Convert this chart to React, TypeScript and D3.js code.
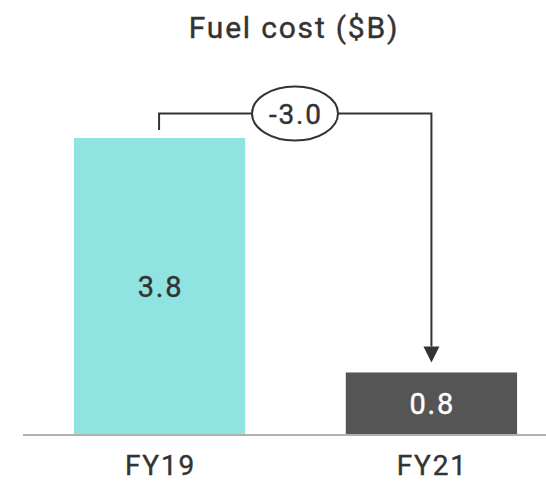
import React from "react";
import * as d3 from "d3";

const categories = ["FY19", "FY21"];
const values = [3.8, 0.8];
const valueLabels = ["3.8", "0.8"];
const changeLabel = "-3.0";
const title = "Fuel cost ($B)";

const W = 546;
const H = 481;
const baseY = 435;
const fillColors = ["#8fe3e0", "#555555"];
const labelColors = ["#333333", "#ffffff"];

export default function App() {
  const x = d3.scaleBand<string>().domain(categories).range([25, 566]).paddingInner(0.37).paddingOuter(0.18);
  const y = d3.scaleLinear().domain([0, 3.8]).range([baseY, 138]);
  const bw = x.bandwidth();
  const x0 = (x(categories[0]) ?? 0) + bw / 2 - 0.5;
  const x1 = (x(categories[1]) ?? 0) + bw / 2;
  const bracketY = 113.5;
  const ex = 295;
  const font = "Roboto, 'DejaVu Sans', sans-serif";
  const ls = 1.8;
  const fw = 400;
  return (
    <svg width={W} height={H} style={{ position: "absolute", left: 0, top: 0 }}>
      <text x={294} y={38} textAnchor="middle" fontFamily={font} fontWeight={fw} fontSize={30} letterSpacing={ls} fill="#333" stroke="#333" strokeWidth={0.4}>{title}</text>
      {categories.map((c, i) => (
        <g key={c}>
          <rect x={x(c)} y={y(values[i])} width={bw} height={baseY - 1 - y(values[i])} fill={fillColors[i]} />
          <text x={(x(c) ?? 0) + bw / 2 + ls / 2} y={(y(values[i]) + baseY) / 2 + 10} textAnchor="middle" fontFamily={font} fontWeight={fw} fontSize={29} letterSpacing={ls} fill={labelColors[i]} stroke={labelColors[i]} strokeWidth={0.4}>{valueLabels[i]}</text>
          <text x={(x(c) ?? 0) + bw / 2 + ls / 2} y={475} textAnchor="middle" fontFamily={font} fontWeight={fw} fontSize={28} letterSpacing={ls} fill="#333" stroke="#333" strokeWidth={0.4}>{c}</text>
        </g>
      ))}
      <line x1={23} x2={W} y1={baseY} y2={baseY} stroke="#b0b0b0" strokeWidth={2} />
      <path d={`M${x0},${y(values[0]) - 8} V${bracketY} H${x1} V${y(values[1]) - 26}`} fill="none" stroke="#333" strokeWidth={2} />
      <path d={`M${x1 - 8},${y(values[1]) - 26} L${x1 + 8},${y(values[1]) - 26} L${x1},${y(values[1]) - 10} Z`} fill="#333" />
      <ellipse cx={ex} cy={bracketY} rx={43} ry={27} fill="#fff" stroke="#333" strokeWidth={2} />
      <text x={ex + ls / 2} y={bracketY + 10} textAnchor="middle" fontFamily={font} fontWeight={fw} fontSize={28} letterSpacing={ls} fill="#333" stroke="#333" strokeWidth={0.4}>{changeLabel}</text>
    </svg>
  );
}
